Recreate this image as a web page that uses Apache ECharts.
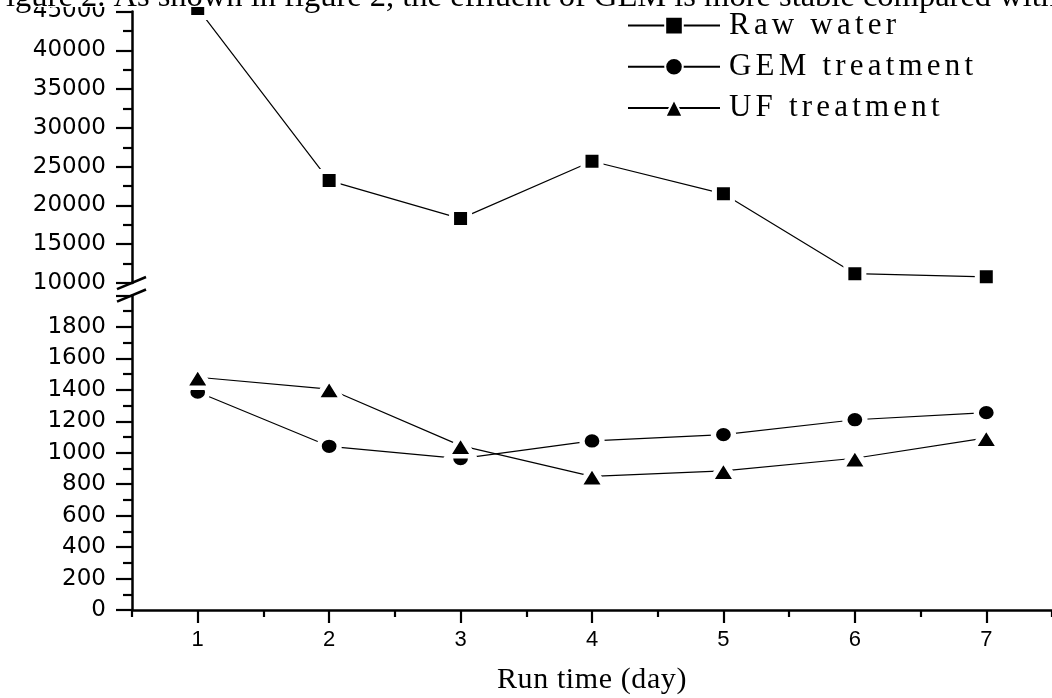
<!DOCTYPE html>
<html>
<head>
<meta charset="utf-8">
<script src="https://cdn.jsdelivr.net/npm/echarts@6/dist/echarts.min.js"></script>
<style>
html,body{margin:0;padding:0;background:#fff;}
#chart{width:1052px;height:698px;}
</style>
</head>
<body>
<div id="chart"></div>
<script>
// ---- data ----
const days = [1, 2, 3, 4, 5, 6, 7];
const rawWater = [45400, 23200, 18300, 25700, 21500, 11200, 10800];
const gemTreatment = [1386, 1041, 963, 1075, 1115, 1210, 1255];
const ufTreatment = [1480, 1405, 1045, 850, 885, 965, 1095];
const seriesNames = ['Raw water', 'GEM treatment', 'UF treatment'];
const xTickLabels = [1, 2, 3, 4, 5, 6, 7];
const xHalfTicks = [0.5, 1.5, 2.5, 3.5, 4.5, 5.5, 6.5, 7.5];
const upperRange = [10000, 45000];
const upperStep = 5000;
const lowerRange = [0, 2000];
const lowerStep = 200;
const xRange = [0.5, 7.5];
const xAxisTitle = 'Run time (day)';
const captionText = 'Figure 2. As shown in figure 2, the effluent of GEM is more stable compared with';

// Spaced-out serif lettering (as in the original legend), via the canvas letterSpacing state.
(function () {
  const proto = CanvasRenderingContext2D.prototype;
  const desc = Object.getOwnPropertyDescriptor(proto, 'font');
  if (!desc || !('letterSpacing' in proto)) return;
  Object.defineProperty(proto, 'font', {
    configurable: true,
    get() { return desc.get.call(this); },
    set(v) {
      desc.set.call(this, v);
      let ls = '0px';
      if (/Liberation Serif/.test(v)) {
        if (/\b31px/.test(v)) ls = '4.2px';
        else if (/\b30px/.test(v)) ls = '0.6px';
      }
      this.letterSpacing = ls;
    }
  });
})();

// ---- chart ----
const chart = echarts.init(document.getElementById('chart'), null, {renderer: 'canvas'});
const pair = (vals) => days.map((d, i) => [d, vals[i]]);
const axisLineStyle = {color: '#000', width: 2.5};
const tickLine = {color: '#000', width: 2.2};
const yLabelStyle = {color: '#000', fontFamily: 'DejaVu Sans', fontSize: 23, margin: 26, formatter: (v) => String(v)};
const symbolStyle = {color: '#000', borderColor: '#fff', borderWidth: 5};
const lineStyle = {color: '#000', width: 1.2};

const option = {
  animation: false,
  backgroundColor: '#fff',
  grid: [
    {left: 132, width: 925, top: 9.6, height: 273.4},
    {left: 132, width: 925, top: 295.5, height: 314.5}
  ],
  xAxis: [
    {gridIndex: 0, type: 'value', min: xRange[0], max: xRange[1], show: false},
    {
      gridIndex: 1, type: 'value', min: xRange[0], max: xRange[1], interval: 0.5, position: 'bottom',
      splitLine: {show: false},
      axisLine: {show: true, lineStyle: axisLineStyle},
      axisTick: {show: true, inside: false, length: 13, lineStyle: tickLine, customValues: xTickLabels},
      axisLabel: {show: true, customValues: xTickLabels, color: '#000', fontFamily: 'Liberation Sans', fontSize: 22, margin: 19,
                  formatter: (v) => String(v)},
      name: xAxisTitle, nameLocation: 'middle', nameGap: 55,
      nameTextStyle: {color: '#000', fontFamily: 'Liberation Serif', fontSize: 30}
    },
    {
      gridIndex: 1, type: 'value', min: xRange[0], max: xRange[1], interval: 0.5, position: 'bottom', offset: 0,
      splitLine: {show: false},
      axisLine: {show: false},
      axisTick: {show: true, inside: false, length: 7, lineStyle: tickLine, customValues: xHalfTicks},
      axisLabel: {show: false}
    }
  ],
  yAxis: [
    {
      gridIndex: 0, type: 'value', min: upperRange[0], max: upperRange[1], interval: upperStep,
      splitLine: {show: false},
      axisLine: {show: true, lineStyle: axisLineStyle},
      axisTick: {show: true, inside: false, length: 16, lineStyle: tickLine},
      minorTick: {show: true, splitNumber: 2, length: 9, lineStyle: tickLine},
      axisLabel: yLabelStyle
    },
    {
      gridIndex: 1, type: 'value', min: lowerRange[0], max: lowerRange[1], interval: lowerStep,
      splitLine: {show: false},
      axisLine: {show: true, lineStyle: axisLineStyle},
      axisTick: {show: true, inside: false, length: 16, lineStyle: tickLine},
      minorTick: {show: true, splitNumber: 2, length: 9, lineStyle: tickLine},
      axisLabel: Object.assign({showMaxLabel: false}, yLabelStyle)
    }
  ],
  legend: {
    orient: 'vertical', left: 622, top: 3,
    itemWidth: 92, itemHeight: 22, itemGap: 6,
    data: seriesNames,
    textStyle: {color: '#000', fontFamily: 'Liberation Serif', fontSize: 31, lineHeight: 32, padding: [0, 0, 0, 4]}
  },
  series: [
    {
      name: seriesNames[0], type: 'line', xAxisIndex: 0, yAxisIndex: 0, data: pair(rawWater),
      symbol: 'rect', symbolSize: 18, clip: false,
      lineStyle: lineStyle, itemStyle: symbolStyle
    },
    {
      name: seriesNames[1], type: 'line', xAxisIndex: 1, yAxisIndex: 1, data: pair(gemTreatment),
      symbol: 'circle', symbolSize: [20, 18], clip: false,
      lineStyle: lineStyle, itemStyle: symbolStyle
    },
    {
      name: seriesNames[2], type: 'line', xAxisIndex: 1, yAxisIndex: 1, data: pair(ufTreatment),
      symbol: 'triangle', symbolSize: [26, 21], clip: false,
      lineStyle: lineStyle, itemStyle: symbolStyle
    }
  ]
};
chart.setOption(option);

// axis-break marks and the cropped caption strip, placed from the axes' own scale
const xAxisPx = chart.convertToPixel({xAxisIndex: 1}, xRange[0]);
const yUpperEnd = chart.convertToPixel({yAxisIndex: 0}, upperRange[0]);
const yLowerEnd = chart.convertToPixel({yAxisIndex: 1}, lowerRange[1]);
const breakLine = (y) => ({
  type: 'line', z: 100,
  shape: {x1: xAxisPx - 15, y1: y + 6.2, x2: xAxisPx + 14, y2: y - 6},
  style: {stroke: '#000', lineWidth: 2.5}
});
chart.setOption({
  graphic: [
    breakLine(yUpperEnd),
    breakLine(yLowerEnd),
    {type: 'rect', z: 100, shape: {x: 0, y: -60, width: 1052, height: 67}, style: {fill: '#fff'}},
    {type: 'text', z: 101, x: -12, y: -3,
     style: {text: captionText, font: '32.5px "Liberation Serif"', fill: '#000', verticalAlign: 'middle', align: 'left'}}
  ]
});
</script>
</body>
</html>
